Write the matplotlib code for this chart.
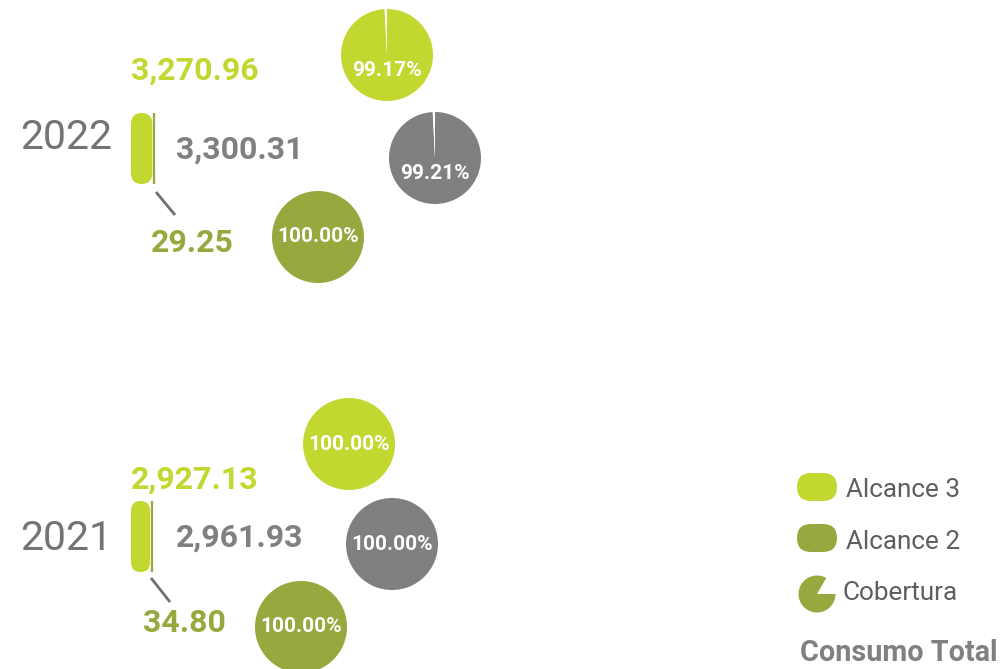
import matplotlib
matplotlib.use("Agg")
import matplotlib.pyplot as plt
from matplotlib.patches import FancyBboxPatch, Wedge

# ---- data -------------------------------------------------------------
years = ["2022", "2021"]
alcance3 = [3270.96, 2927.13]
alcance2 = [29.25, 34.80]
consumo_total = [3300.31, 2961.93]
cobertura_alcance3 = [99.17, 100.00]
cobertura_total = [99.21, 100.00]
cobertura_alcance2 = [100.00, 100.00]
legend_labels = ["Alcance 3", "Alcance 2", "Cobertura"]
legend_title = "Consumo Total"

# ---- style ------------------------------------------------------------
LIME = "#C2D72F"
OLIVE = "#99A73F"
GREY = "#808080"
YEAR_GREY = "#747474"
TEXT_GREY = "#5e5e5e"

W, H = 1001, 669
fig = plt.figure(figsize=(W / 100, H / 100), dpi=100)
ax = fig.add_axes([0, 0, 1, 1])


def Y(py):
    return H - py


def fmt(v):
    return f"{v:,.2f}"


# per-year layout (pixel anchors)
rows = [
    dict(year_xy=(20, 149), bar_x=131, bar_top=113, bar_h=71,
         a3_xy=(131, 80), tot_xy=(176, 159), a2_xy=(151, 252),
         conn=((156, 192), (175, 215)),
         pie3=(387, 55), pie_tot=(435, 158), pie2=(318, 237)),
    dict(year_xy=(20, 550), bar_x=131, bar_top=501, bar_h=71,
         a3_xy=(131, 489), tot_xy=(176, 547), a2_xy=(143, 632),
         conn=((151, 578), (170, 602)),
         pie3=(349, 444), pie_tot=(392, 544), pie2=(301, 627)),
]
PIE_R = 46
BAR_SCALE = 21.5 / 3300.0   # px per unit of consumption
NUM_SIZE = 23


def coverage_pie(center, pct, color):
    cx, cy = center
    ax.pie([pct, 100 - pct], colors=[color, "white"], startangle=90,
           counterclock=False, radius=PIE_R, center=(cx, Y(cy)),
           wedgeprops=dict(linewidth=0))
    dy = 0 if pct >= 100 else 0.33 * PIE_R
    ax.text(cx, Y(cy) - dy, f"{pct:.2f}%", color="white", fontsize=15,
            fontweight="bold", family="Roboto", ha="center", va="center")


for i, r in enumerate(rows):
    # year
    ax.text(r["year_xy"][0], Y(r["year_xy"][1]), years[i], fontsize=29.5,
            family="Roboto", fontweight="normal", color=YEAR_GREY,
            ha="left", va="baseline")

    # stacked pill: alcance 3 + alcance 2
    w3 = alcance3[i] * BAR_SCALE
    w2 = alcance2[i] * BAR_SCALE
    x0 = r["bar_x"]
    y0 = Y(r["bar_top"] + r["bar_h"])
    ax.add_patch(FancyBboxPatch((x0, y0), w3, r["bar_h"],
                                boxstyle=f"round,pad=0,rounding_size={w3 / 2}",
                                facecolor=LIME, edgecolor="none"))
    xa2 = x0 + w3 + 1.5 + w2
    ax.plot([xa2, xa2], [y0, y0 + r["bar_h"]], color=OLIVE, lw=1.6,
            solid_capstyle="butt")

    # connector
    (cx1, cy1), (cx2, cy2) = r["conn"]
    ax.plot([cx1, cx2], [Y(cy1), Y(cy2)], color="#707070", lw=2.0,
            solid_capstyle="butt")

    # values
    ax.text(r["a3_xy"][0], Y(r["a3_xy"][1]), fmt(alcance3[i]), color=LIME,
            fontsize=NUM_SIZE, fontweight="bold", family="Roboto",
            va="baseline")
    ax.text(r["tot_xy"][0], Y(r["tot_xy"][1]), fmt(consumo_total[i]),
            color=GREY, fontsize=NUM_SIZE, fontweight="bold", family="Roboto",
            va="baseline")
    ax.text(r["a2_xy"][0], Y(r["a2_xy"][1]), fmt(alcance2[i]), color=OLIVE,
            fontsize=NUM_SIZE, fontweight="bold", family="Roboto",
            va="baseline")

    # coverage pies
    coverage_pie(r["pie3"], cobertura_alcance3[i], LIME)
    coverage_pie(r["pie_tot"], cobertura_total[i], GREY)
    coverage_pie(r["pie2"], cobertura_alcance2[i], OLIVE)

# ---- legend -----------------------------------------------------------
for (label, color, top, base) in [(legend_labels[0], LIME, 473, 497),
                                  (legend_labels[1], OLIVE, 524, 549)]:
    ax.add_patch(FancyBboxPatch((797, Y(top + 28)), 40, 28,
                                boxstyle="round,pad=0,rounding_size=14",
                                facecolor=color, edgecolor="none"))
    ax.text(846, Y(base), label, fontsize=18.8, family="Roboto",
            fontweight="normal", color=TEXT_GREY, va="baseline")

ax.add_patch(Wedge((817, Y(594)), 18.5, 60, 360, facecolor=OLIVE,
                   edgecolor="none"))
ax.text(843, Y(600), legend_labels[2], fontsize=18.8, family="Roboto",
        fontweight="normal", color=TEXT_GREY, va="baseline")
ax.text(800, Y(661), legend_title, fontsize=20.7, family="Roboto",
        fontweight="bold", color=GREY, va="baseline")

ax.set_xlim(0, W)
ax.set_ylim(0, H)
ax.set_aspect("equal")
ax.axis("off")

fig.savefig("out.png", dpi=100, facecolor="white")
